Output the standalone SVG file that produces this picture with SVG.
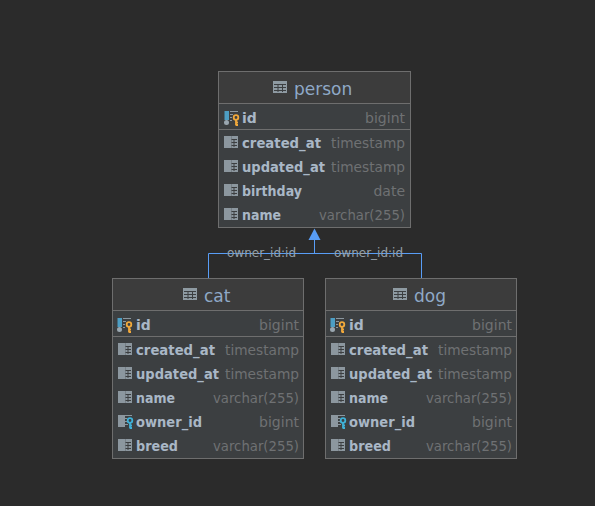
<svg xmlns="http://www.w3.org/2000/svg" xmlns:xlink="http://www.w3.org/1999/xlink" width="595" height="506" viewBox="0 0 595 506">
<style>
text{font-family:"DejaVu Sans",sans-serif}
.box{fill:#3c3f41;stroke:#6e6e6e;stroke-width:1}
.head{fill:#3c3c3c}
.sep{stroke:#6e6e6e;stroke-width:1;fill:none}
.title{font-size:17px;fill:#8fa9c7}
.name{font-size:14px;font-weight:bold;fill:#a9b7c6}
.type{font-size:14px;fill:#6f7173;text-anchor:end}
.link{stroke:#589df6;stroke-width:1;fill:none}
.lbl{font-size:12px;fill:#96a0a8}
</style>
<defs>
<g id="tbl"><rect x="0" y="0" width="14" height="12" fill="#8e9aa2"/><path d="M1 3.500H13M1 6.500H13M1 9.500H13M5 3V11M9.500 3V11" stroke="#3c3f41" stroke-width="1" fill="none"/></g>
<g id="col"><rect x="0" y="0" width="7.500" height="12" fill="#8c979f"/><rect x="7.500" y="0" width="6.500" height="12" fill="#8c979f"/><path d="M7.500 3.500H13M7.500 6.500H13M7.500 9.500H13M10 3V11" stroke="#3c3f41" stroke-width="1" fill="none"/></g>
<g id="pk"><rect x="0.500" y="-1" width="4.500" height="9" fill="#4d9ec4"/><circle cx="2.500" cy="10.500" r="2.500" fill="#9aa7b0"/><path d="M6 -0.500H14M6 2.500H9M6 5.500H8M6 8.500H8" stroke="#8c979f" stroke-width="1" fill="none"/><circle cx="12" cy="5.500" r="2.300" fill="#3c3f41" stroke="#f2a93b" stroke-width="1.800"/><path d="M12 8V13.500M12 10.500H14M12 13H14" stroke="#f2a93b" stroke-width="1.800" fill="none"/></g>
<g id="fk"><rect x="0" y="0" width="7" height="12" fill="#8c979f"/><path d="M7 0.500H14M7 3.500H9M7 6.500H9M7 9.500H10" stroke="#8c979f" stroke-width="1" fill="none"/><circle cx="12" cy="5.500" r="2.300" fill="#3c3f41" stroke="#3fb1d8" stroke-width="1.800"/><path d="M12 8V13.500M12 10.500H14M12 13H14" stroke="#3fb1d8" stroke-width="1.800" fill="none"/></g>
</defs>
<rect width="595" height="506" fill="#2b2b2b"/>
<g id="connectors">
<path class="link" d="M208.500 279V253.500H421.500V279M314.500 253.500V240"/>
<path d="M314.500 228.500L320.500 240H308.500Z" fill="#589df6"/>
<text class="lbl" x="227" y="257" textLength="69" lengthAdjust="spacingAndGlyphs">owner_id:id</text>
<text class="lbl" x="334" y="257" textLength="69" lengthAdjust="spacingAndGlyphs">owner_id:id</text>
</g>
<g id="person">
<rect class="box" x="218.500" y="71.500" width="192" height="156"/>
<rect class="head" x="219" y="72" width="191" height="31"/>
<path class="sep" d="M218.500 103.500H410.500M218.500 129.500H410.500"/>
<use xlink:href="#tbl" href="#tbl" x="273" y="81"/>
<text class="title" x="294" y="95">person</text>
<use xlink:href="#pk" href="#pk" x="224" y="112"/>
<text class="name" x="242" y="123">id</text><text class="type" x="405" y="123">bigint</text>
<use xlink:href="#col" href="#col" x="224" y="136"/>
<text class="name" x="242" y="148" textLength="79" lengthAdjust="spacingAndGlyphs">created_at</text><text class="type" x="405" y="148" textLength="74" lengthAdjust="spacingAndGlyphs">timestamp</text>
<use xlink:href="#col" href="#col" x="224" y="160"/>
<text class="name" x="242" y="172" textLength="83" lengthAdjust="spacingAndGlyphs">updated_at</text><text class="type" x="405" y="172" textLength="74" lengthAdjust="spacingAndGlyphs">timestamp</text>
<use xlink:href="#col" href="#col" x="224" y="184"/>
<text class="name" x="242" y="196" textLength="60" lengthAdjust="spacingAndGlyphs">birthday</text><text class="type" x="405" y="196">date</text>
<use xlink:href="#col" href="#col" x="224" y="208"/>
<text class="name" x="242" y="220" textLength="39" lengthAdjust="spacingAndGlyphs">name</text><text class="type" x="405" y="220" textLength="86" lengthAdjust="spacingAndGlyphs">varchar(255)</text>
</g>
<g id="cat">
<rect class="box" x="112.500" y="278.500" width="191" height="180"/>
<rect class="head" x="113" y="279" width="190" height="31"/>
<path class="sep" d="M112.500 310.500H303.500M112.500 336.500H303.500"/>
<use xlink:href="#tbl" href="#tbl" x="183" y="288"/>
<text class="title" x="204" y="302">cat</text>
<use xlink:href="#pk" href="#pk" x="117" y="319"/>
<text class="name" x="136" y="330">id</text><text class="type" x="299" y="330">bigint</text>
<use xlink:href="#col" href="#col" x="118" y="343"/>
<text class="name" x="136" y="355" textLength="79" lengthAdjust="spacingAndGlyphs">created_at</text><text class="type" x="299" y="355" textLength="74" lengthAdjust="spacingAndGlyphs">timestamp</text>
<use xlink:href="#col" href="#col" x="118" y="367"/>
<text class="name" x="136" y="379" textLength="83" lengthAdjust="spacingAndGlyphs">updated_at</text><text class="type" x="299" y="379" textLength="74" lengthAdjust="spacingAndGlyphs">timestamp</text>
<use xlink:href="#col" href="#col" x="118" y="391"/>
<text class="name" x="136" y="403" textLength="39" lengthAdjust="spacingAndGlyphs">name</text><text class="type" x="299" y="403" textLength="86" lengthAdjust="spacingAndGlyphs">varchar(255)</text>
<use xlink:href="#fk" href="#fk" x="118" y="415"/>
<text class="name" x="136" y="427" textLength="66" lengthAdjust="spacingAndGlyphs">owner_id</text><text class="type" x="299" y="427">bigint</text>
<use xlink:href="#col" href="#col" x="118" y="439"/>
<text class="name" x="136" y="451" textLength="42" lengthAdjust="spacingAndGlyphs">breed</text><text class="type" x="299" y="451" textLength="86" lengthAdjust="spacingAndGlyphs">varchar(255)</text>
</g>
<g id="dog">
<rect class="box" x="325.500" y="278.500" width="191" height="180"/>
<rect class="head" x="326" y="279" width="190" height="31"/>
<path class="sep" d="M325.500 310.500H516.500M325.500 336.500H516.500"/>
<use xlink:href="#tbl" href="#tbl" x="393" y="288"/>
<text class="title" x="414" y="302">dog</text>
<use xlink:href="#pk" href="#pk" x="330" y="319"/>
<text class="name" x="349" y="330">id</text><text class="type" x="512" y="330">bigint</text>
<use xlink:href="#col" href="#col" x="331" y="343"/>
<text class="name" x="349" y="355" textLength="79" lengthAdjust="spacingAndGlyphs">created_at</text><text class="type" x="512" y="355" textLength="74" lengthAdjust="spacingAndGlyphs">timestamp</text>
<use xlink:href="#col" href="#col" x="331" y="367"/>
<text class="name" x="349" y="379" textLength="83" lengthAdjust="spacingAndGlyphs">updated_at</text><text class="type" x="512" y="379" textLength="74" lengthAdjust="spacingAndGlyphs">timestamp</text>
<use xlink:href="#col" href="#col" x="331" y="391"/>
<text class="name" x="349" y="403" textLength="39" lengthAdjust="spacingAndGlyphs">name</text><text class="type" x="512" y="403" textLength="86" lengthAdjust="spacingAndGlyphs">varchar(255)</text>
<use xlink:href="#fk" href="#fk" x="331" y="415"/>
<text class="name" x="349" y="427" textLength="66" lengthAdjust="spacingAndGlyphs">owner_id</text><text class="type" x="512" y="427">bigint</text>
<use xlink:href="#col" href="#col" x="331" y="439"/>
<text class="name" x="349" y="451" textLength="42" lengthAdjust="spacingAndGlyphs">breed</text><text class="type" x="512" y="451" textLength="86" lengthAdjust="spacingAndGlyphs">varchar(255)</text>
</g>
</svg>
